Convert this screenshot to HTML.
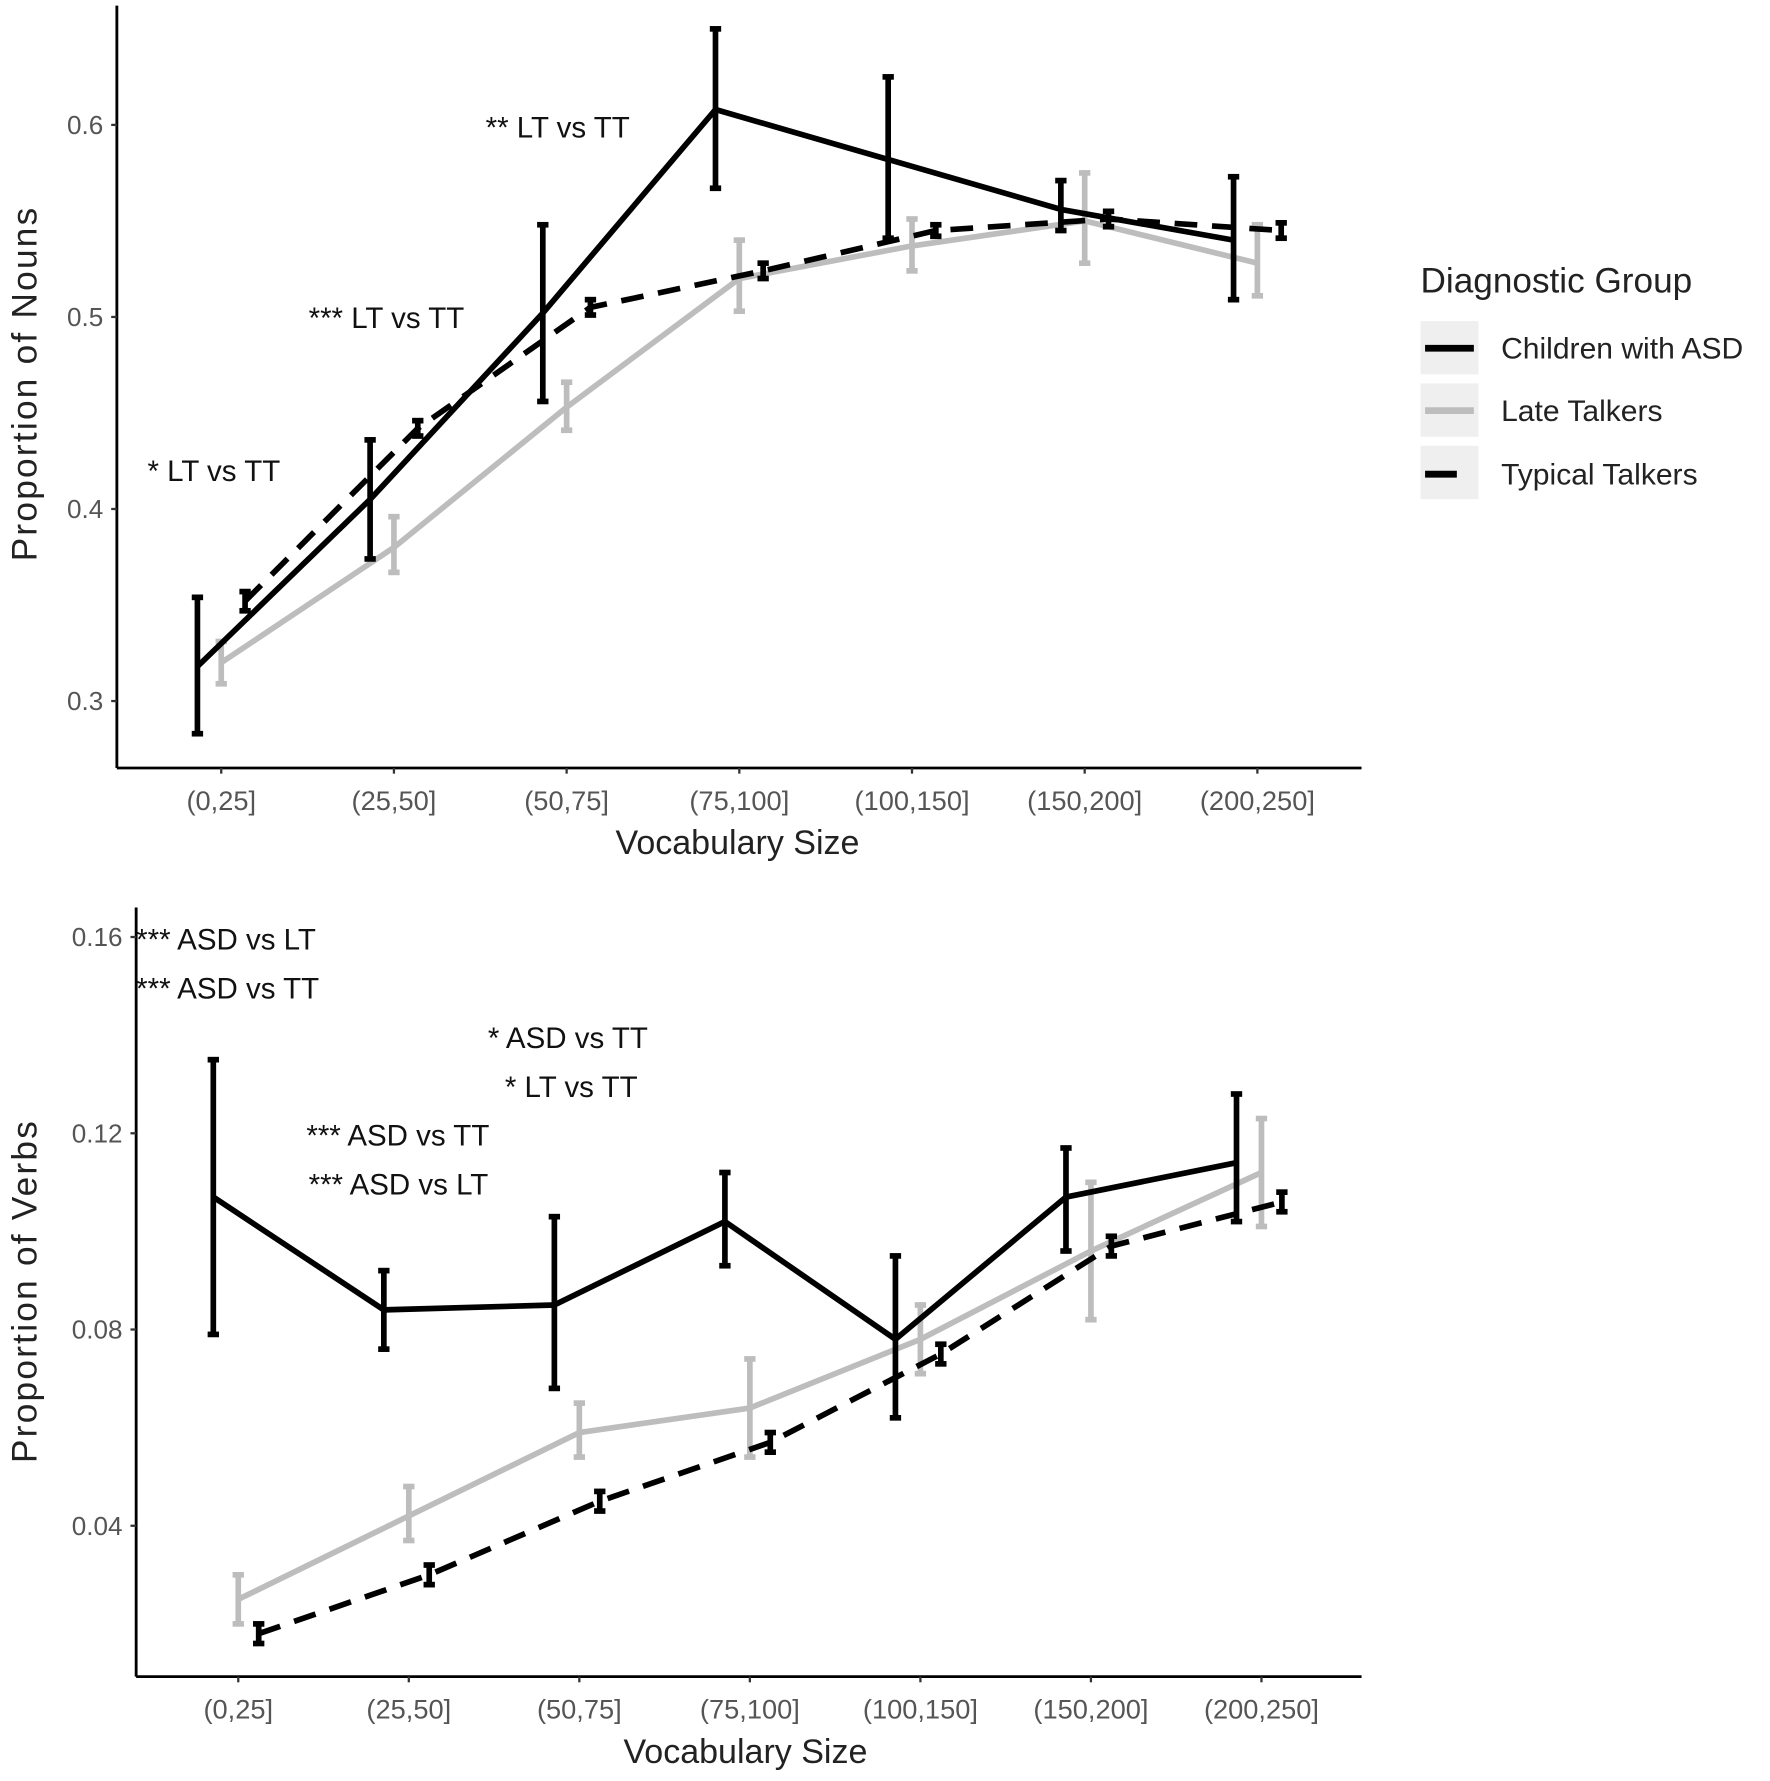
<!DOCTYPE html>
<html><head><meta charset="utf-8"><style>
html,body{margin:0;padding:0;background:#fff;}
svg{display:block;font-family:"Liberation Sans",Arial,sans-serif;}
</style></head><body>
<svg id="chart" width="1770" height="1781" viewBox="0 0 1560 1570" preserveAspectRatio="none" xmlns="http://www.w3.org/2000/svg">
<rect width="1560" height="1570" fill="#fff"/>
<g id="top"></g>
<g id="bot"></g>
<g id="legend">
<text x="1252" y="258" font-size="31" fill="#222">Diagnostic Group</text>
<rect x="1252" y="283" width="51" height="47" fill="#efefef"/>
<line x1="1256" y1="307" x2="1299" y2="307" stroke="#000" stroke-width="6"/>
<text x="1323" y="316" font-size="26.5" fill="#222">Children with ASD</text>
<rect x="1252" y="338" width="51" height="47" fill="#efefef"/>
<line x1="1256" y1="362" x2="1299" y2="362" stroke="#bdbdbd" stroke-width="6"/>
<text x="1323" y="371" font-size="26.5" fill="#222">Late Talkers</text>
<rect x="1252" y="393" width="51" height="47" fill="#efefef"/>
<line x1="1256" y1="418" x2="1284" y2="418" stroke="#000" stroke-width="6"/>
<text x="1323" y="427" font-size="26.5" fill="#222">Typical Talkers</text>
</g>
</svg>
<script>
const categories = ["(0,25]","(25,50]","(50,75]","(75,100]","(100,150]","(150,200]","(200,250]"];
const nounTicks = [0.3,0.4,0.5,0.6];
const nounASD = [0.318,0.405,0.502,0.608,0.582,0.556,0.540];
const nounASDlo = [0.283,0.374,0.456,0.567,0.541,0.545,0.509];
const nounASDhi = [0.354,0.436,0.548,0.650,0.625,0.571,0.573];
const nounLT = [0.320,0.380,0.453,0.520,0.537,0.550,0.528];
const nounLTlo = [0.309,0.367,0.441,0.503,0.524,0.528,0.511];
const nounLThi = [0.331,0.396,0.466,0.540,0.551,0.575,0.548];
const nounTT = [0.352,0.442,0.505,0.524,0.545,0.551,0.545];
const nounTTlo = [0.347,0.438,0.501,0.520,0.542,0.547,0.541];
const nounTThi = [0.357,0.446,0.509,0.528,0.548,0.555,0.549];
const verbTicks = [0.04,0.08,0.12,0.16];
const verbASD = [0.107,0.084,0.085,0.102,0.078,0.107,0.114];
const verbASDlo = [0.079,0.076,0.068,0.093,0.062,0.096,0.102];
const verbASDhi = [0.135,0.092,0.103,0.112,0.095,0.117,0.128];
const verbLT = [0.025,0.042,0.059,0.064,0.078,0.096,0.112];
const verbLTlo = [0.020,0.037,0.054,0.054,0.071,0.082,0.101];
const verbLThi = [0.030,0.048,0.065,0.074,0.085,0.110,0.123];
const verbTT = [0.018,0.030,0.045,0.057,0.075,0.097,0.106];
const verbTTlo = [0.016,0.028,0.043,0.055,0.073,0.095,0.104];
const verbTThi = [0.020,0.032,0.047,0.059,0.077,0.099,0.108];
const nounNotes = ["* LT vs TT","*** LT vs TT","** LT vs TT"];
const verbNotes = ["*** ASD vs LT","*** ASD vs TT","* ASD vs TT","* LT vs TT","*** ASD vs TT","*** ASD vs LT"];

const NS="http://www.w3.org/2000/svg";
function mk(parent,tag,attrs,text){const e=document.createElementNS(NS,tag);for(const k in attrs)e.setAttribute(k,attrs[k]);if(text!==undefined)e.textContent=text;parent.appendChild(e);return e;}

function panel(g,cfg){
  const yS=v=>cfg.y0+(v-cfg.v0)*cfg.pxPer;
  const xS=i=>cfg.x0+i*cfg.dx;
  let e;
  e=mk(g,'line',{x1:cfg.axX,y1:cfg.top,x2:cfg.axX,y2:cfg.axY,stroke:'#000','stroke-width':2.5});
  
  
  e=mk(g,'line',{x1:cfg.axX,y1:cfg.axY,x2:1200,y2:cfg.axY,stroke:'#000','stroke-width':2.5});
  
  
  cfg.ticks.forEach(t=>{
    const y=yS(t);
    mk(g,'line',{x1:cfg.axX-5,y1:y,x2:cfg.axX,y2:y,stroke:'#333','stroke-width':2});
    e=mk(g,'text',{x:cfg.axX-12,y:y+8,'font-size':23,fill:'#555','text-anchor':'end'},String(t));
    
    
  });
  categories.forEach((c,i)=>{
    const x=xS(i);
    mk(g,'line',{x1:x,y1:cfg.axY,x2:x,y2:cfg.axY+5,stroke:'#333','stroke-width':2});
    e=mk(g,'text',{x:x,y:cfg.axY+37,'font-size':24,fill:'#555','text-anchor':'middle'},c);
    
    
  });
  e=mk(g,'text',{x:cfg.titleX,y:cfg.axY+76,'font-size':30,fill:'#222','text-anchor':'middle'},'Vocabulary Size');
  
  
  e=mk(g,'text',{x:0,y:0,'font-size':31,'letter-spacing':2,fill:'#222','text-anchor':'middle',transform:`translate(32,${cfg.ytitleY}) rotate(-90)`,'xml:space':'preserve'},cfg.ytitle);
  
  
  cfg.series.forEach(s=>{
    const pts=s.v.map((v,i)=>(xS(i)+s.off)+','+yS(v)).join(' ');
    const attrs={points:pts,fill:'none',stroke:s.color,'stroke-width':5,'stroke-linejoin':'round'};
    if(s.dash)attrs['stroke-dasharray']='20 13';
    e=mk(g,'polyline',attrs);
    
    
    s.v.forEach((v,i)=>{
      const x=xS(i)+s.off,y1=yS(s.lo[i]),y2=yS(s.hi[i]);
      const eg=mk(g,'g',{});
      
      
      mk(eg,'line',{x1:x,y1:y1,x2:x,y2:y2,stroke:s.color,'stroke-width':5});
      mk(eg,'line',{x1:x-5,y1:y1,x2:x+5,y2:y1,stroke:s.color,'stroke-width':5});
      mk(eg,'line',{x1:x-5,y1:y2,x2:x+5,y2:y2,stroke:s.color,'stroke-width':5});
    });
  });
  cfg.notes.forEach((n,i)=>{
    e=mk(g,'text',{x:cfg.notePos[i][0],y:cfg.notePos[i][1]+9,'font-size':26,fill:'#111'},n);
    
    
  });
}
panel(document.getElementById('top'),{
  axX:103,axY:677,top:5,x0:195,dx:152.2,y0:618,v0:0.3,pxPer:-1693,ticks:nounTicks,titleX:650,
  ytitle:'Proportion of  Nouns',ytitleY:338,
  series:[
    {name:'lt',v:nounLT,lo:nounLTlo,hi:nounLThi,off:0,color:'#bdbdbd'},
    {name:'tt',v:nounTT,lo:nounTTlo,hi:nounTThi,off:21,color:'#000',dash:true},
    {name:'asd',v:nounASD,lo:nounASDlo,hi:nounASDhi,off:-21,color:'#000'}],
  notes:nounNotes,notePos:[[130,415],[272,280],[428,112]]
});
panel(document.getElementById('bot'),{
  axX:120,axY:1478,top:800,x0:210,dx:150.3,y0:1345,v0:0.04,pxPer:-4325,ticks:verbTicks,titleX:657,
  ytitle:'Proportion of  Verbs',ytitleY:1138,
  series:[
    {name:'lt',v:verbLT,lo:verbLTlo,hi:verbLThi,off:0,color:'#bdbdbd'},
    {name:'tt',v:verbTT,lo:verbTTlo,hi:verbTThi,off:18,color:'#000',dash:true},
    {name:'asd',v:verbASD,lo:verbASDlo,hi:verbASDhi,off:-22,color:'#000'}],
  notes:verbNotes,notePos:[[120,828],[120,871],[430,915],[445,958],[270,1001],[272,1044]]
});
</script>
</body></html>
